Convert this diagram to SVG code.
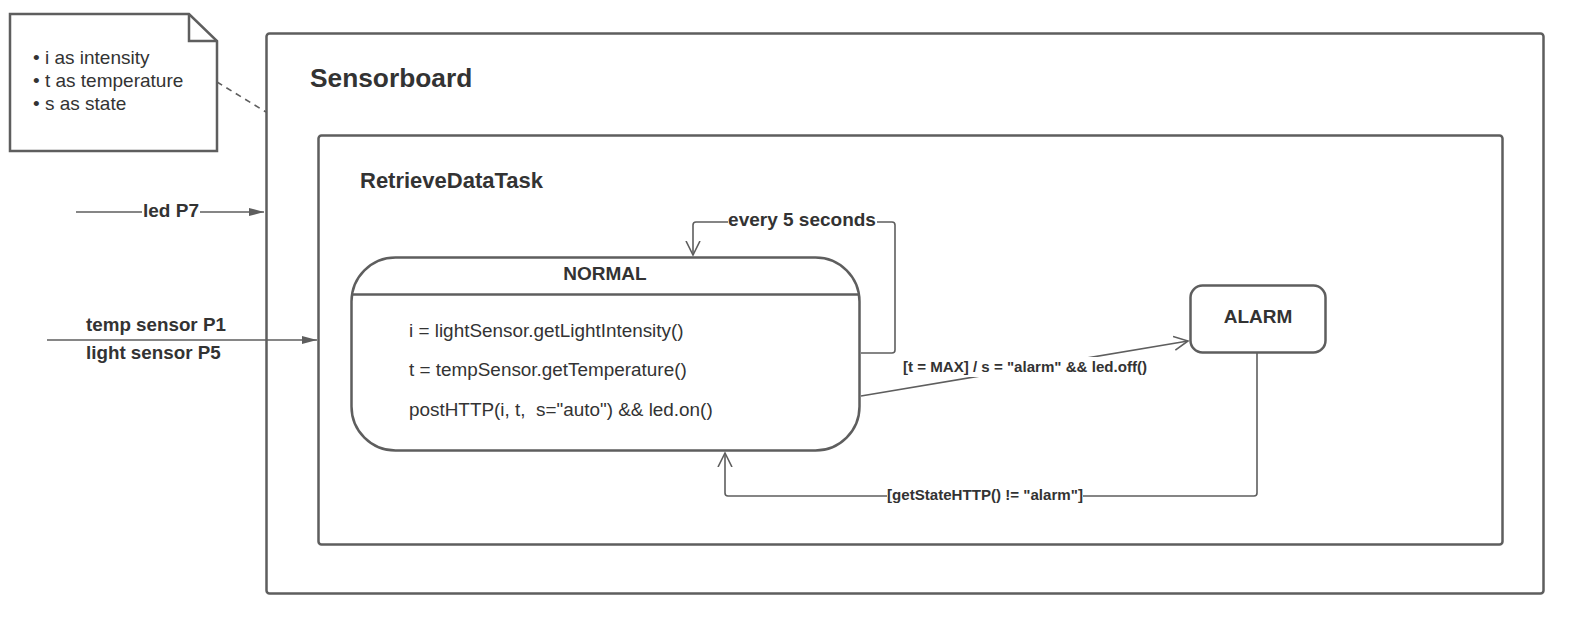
<svg xmlns="http://www.w3.org/2000/svg" width="1572" height="621" viewBox="0 0 1572 621">
<style>
text{font-family:"Liberation Sans",Arial,sans-serif;fill:#333333}
.b{font-weight:bold}
.box{fill:#ffffff;stroke:#5e5e5e;stroke-width:2.5}
.ln{fill:none;stroke:#5e5e5e;stroke-width:1.6}
.lbg{fill:#ffffff}
</style>
<defs>
<marker id="open" markerWidth="16" markerHeight="16" refX="14" refY="8" orient="auto" markerUnits="userSpaceOnUse">
<path d="M0,1 L14,8 L0,15" fill="none" stroke="#5e5e5e" stroke-width="1.6"/>
</marker>
<marker id="fill" markerWidth="16" markerHeight="12" refX="15" refY="6" orient="auto" markerUnits="userSpaceOnUse">
<path d="M0,2 L15,6 L0,10 Z" fill="#5e5e5e"/>
</marker>
</defs>
<g id="sensorboard">
<rect class="box" x="266.5" y="33.5" width="1277" height="560" rx="3"/>
<text class="b" x="310" y="87" font-size="26.3">Sensorboard</text>
</g>
<g id="retrieveDataTask">
<rect class="box" x="318.5" y="135.5" width="1184" height="409" rx="3"/>
<text class="b" x="360" y="188" font-size="22">RetrieveDataTask</text>
</g>
<g id="note">
<path class="box" d="M10,14 H189 L217,41 V151 H10 Z"/>
<path d="M189,14 V41 H217" fill="none" stroke="#5e5e5e" stroke-width="2.5"/>
<text x="33" y="64" font-size="19">• i as intensity</text>
<text x="33" y="87" font-size="19">• t as temperature</text>
<text x="33" y="110" font-size="19">• s as state</text>
</g>
<g id="normal">
<rect class="box" x="351.5" y="257.5" width="508" height="193" rx="44"/>
<line x1="351.5" y1="294.5" x2="859.5" y2="294.5" stroke="#5e5e5e" stroke-width="2.5"/>
<text class="b" x="605" y="280" font-size="19" text-anchor="middle">NORMAL</text>
<text x="409" y="337" font-size="18.9">i = lightSensor.getLightIntensity()</text>
<text x="409" y="376" font-size="18.9">t = tempSensor.getTemperature()</text>
<text x="409" y="416" font-size="18.9" xml:space="preserve">postHTTP(i, t,  s="auto") &amp;&amp; led.on()</text>
</g>
<g id="alarm">
<rect class="box" x="1190.5" y="285.5" width="135" height="67" rx="12"/>
<text class="b" x="1258" y="323" font-size="19" text-anchor="middle">ALARM</text>
</g>
<g id="connectors">
<path class="ln" d="M76,212 H264" marker-end="url(#fill)"/>
<rect class="lbg" x="142" y="200" width="58" height="22"/>
<text class="b" x="171" y="217" font-size="19" text-anchor="middle">led P7</text>
<path class="ln" d="M47,340 H317" marker-end="url(#fill)"/>
<text class="b" x="86" y="331" font-size="18.8">temp sensor P1</text>
<text class="b" x="86" y="359" font-size="18.8">light sensor P5</text>
<path class="ln" d="M217,82 L266,112" stroke-dasharray="6,5"/>
<path class="ln" d="M861,353 H892 Q895,353 895,350 V225 Q895,222 892,222 H696 Q693,222 693,225 V255" marker-end="url(#open)"/>
<rect class="lbg" x="728" y="208" width="149" height="22"/>
<text class="b" x="802" y="226" font-size="19" text-anchor="middle">every 5 seconds</text>
<path class="ln" d="M861,396 L1188,341" marker-end="url(#open)"/>
<rect class="lbg" x="902" y="357" width="246" height="20"/>
<text class="b" x="1025" y="372" font-size="15.1" text-anchor="middle">[t = MAX] / s = "alarm" &amp;&amp; led.off()</text>
<path class="ln" d="M1257,353 V493 Q1257,496 1254,496 H728 Q725,496 725,493 V453" marker-end="url(#open)"/>
<rect class="lbg" x="887" y="485" width="196" height="20"/>
<text class="b" x="985" y="500" font-size="15.1" text-anchor="middle">[getStateHTTP() != "alarm"]</text>
</g>
</svg>
